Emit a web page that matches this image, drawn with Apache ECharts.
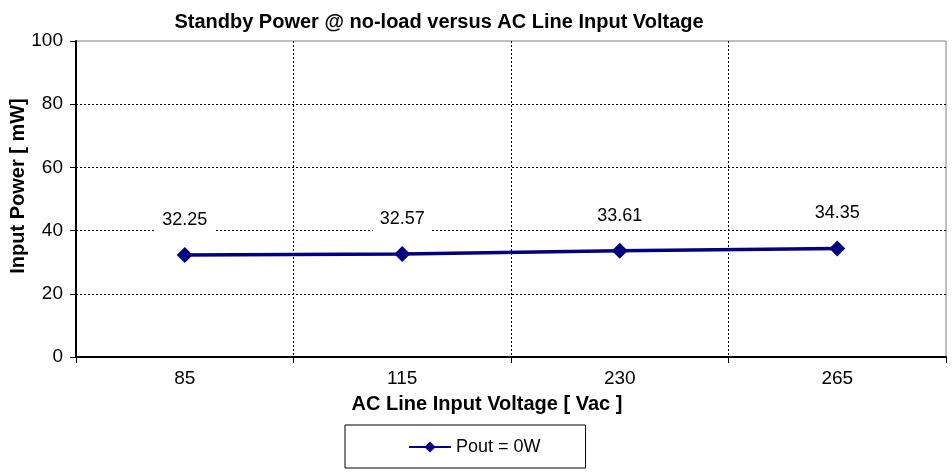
<!DOCTYPE html>
<html><head><meta charset="utf-8">
<script src="https://cdn.jsdelivr.net/npm/echarts@6/dist/echarts.min.js"></script>
<style>html,body{margin:0;padding:0;background:#fff}#c{width:952px;height:473px}</style>
</head><body><div id="c"></div>
<script>
const categories = ['85', '115', '230', '265'];
const poutZero = [32.25, 32.57, 33.61, 34.35];
const yTicks = { min: 0, max: 100, interval: 20 };
const titleText = 'Standby Power @ no-load versus AC Line Input Voltage';
const xName = 'AC Line Input Voltage [ Vac ]';
const yName = 'Input Power [ mW]';
const seriesName = 'Pout = 0W';

const FONT = '"Liberation Sans", Arial, sans-serif';
const BOLD = 'bold 20px "Liberation Sans", Arial, sans-serif';
const chart = echarts.init(document.getElementById('c'), null, {renderer: 'canvas'});
const clr = 'rgba(0,0,0,0)';
chart.setOption({
  animation: false,
  backgroundColor: '#fff',
  textStyle: {fontFamily: FONT},
  title: {
    text: titleText, left: 434, top: 7, textAlign: 'center',
    textStyle: {fontFamily: FONT, fontWeight: 'bold', fontSize: 20, color: '#000'}
  },
  graphic: [
    {type: 'text', rotation: Math.PI / 2, position: [18, 186],
     style: {text: yName, font: BOLD, fill: '#000', textAlign: 'center', textVerticalAlign: 'middle'}},
    {type: 'text', position: [487, 404],
     style: {text: xName, font: BOLD, fill: '#000', textAlign: 'center', textVerticalAlign: 'middle'}}
  ],
  legend: {
    left: 345, top: 425,
    padding: [13, 45, 12, 63],
    borderColor: '#000', borderWidth: 1,
    itemWidth: 42, itemHeight: 14,
    textStyle: {fontFamily: FONT, fontSize: 18, color: '#000'},
    data: [seriesName]
  },
  grid: {
    left: 76, right: 6, top: 41, bottom: 116,
    show: true, borderColor: '#808080', borderWidth: 1, backgroundColor: '#fff'
  },
  xAxis: {
    type: 'category', data: categories, boundaryGap: true,
    axisLine: {lineStyle: {color: '#000', width: 2}},
    axisTick: {show: true, length: 6, lineStyle: {color: '#000', width: 1}},
    axisLabel: {color: '#000', fontSize: 19, fontFamily: FONT, margin: 12},
    splitLine: {show: true, interval: 0, lineStyle: {color: [clr, '#000', '#000', '#000', clr], type: [2, 2], width: 1}}
  },
  yAxis: {
    type: 'value', min: yTicks.min, max: yTicks.max, interval: yTicks.interval,
    axisLine: {show: true, lineStyle: {color: '#000', width: 2}},
    axisTick: {show: true, length: 6, lineStyle: {color: '#000', width: 1}},
    axisLabel: {color: '#000', fontSize: 19, fontFamily: FONT, margin: 13},
    splitLine: {show: true, lineStyle: {color: [clr, '#000', '#000', '#000', '#000', clr], type: [2, 2], width: 1}}
  },
  series: [{
    name: seriesName, type: 'line', data: poutZero,
    symbol: 'diamond', symbolSize: 16,
    lineStyle: {color: '#000080', width: 3.5},
    itemStyle: {color: '#000080'},
    label: {
      show: true, position: 'top', distance: 13,
      color: '#000', fontSize: 18, fontFamily: FONT,
      backgroundColor: '#fff', padding: [4, 7], lineHeight: 20,
      formatter: p => p.value.toFixed(2)
    }
  }]
});
</script></body></html>
